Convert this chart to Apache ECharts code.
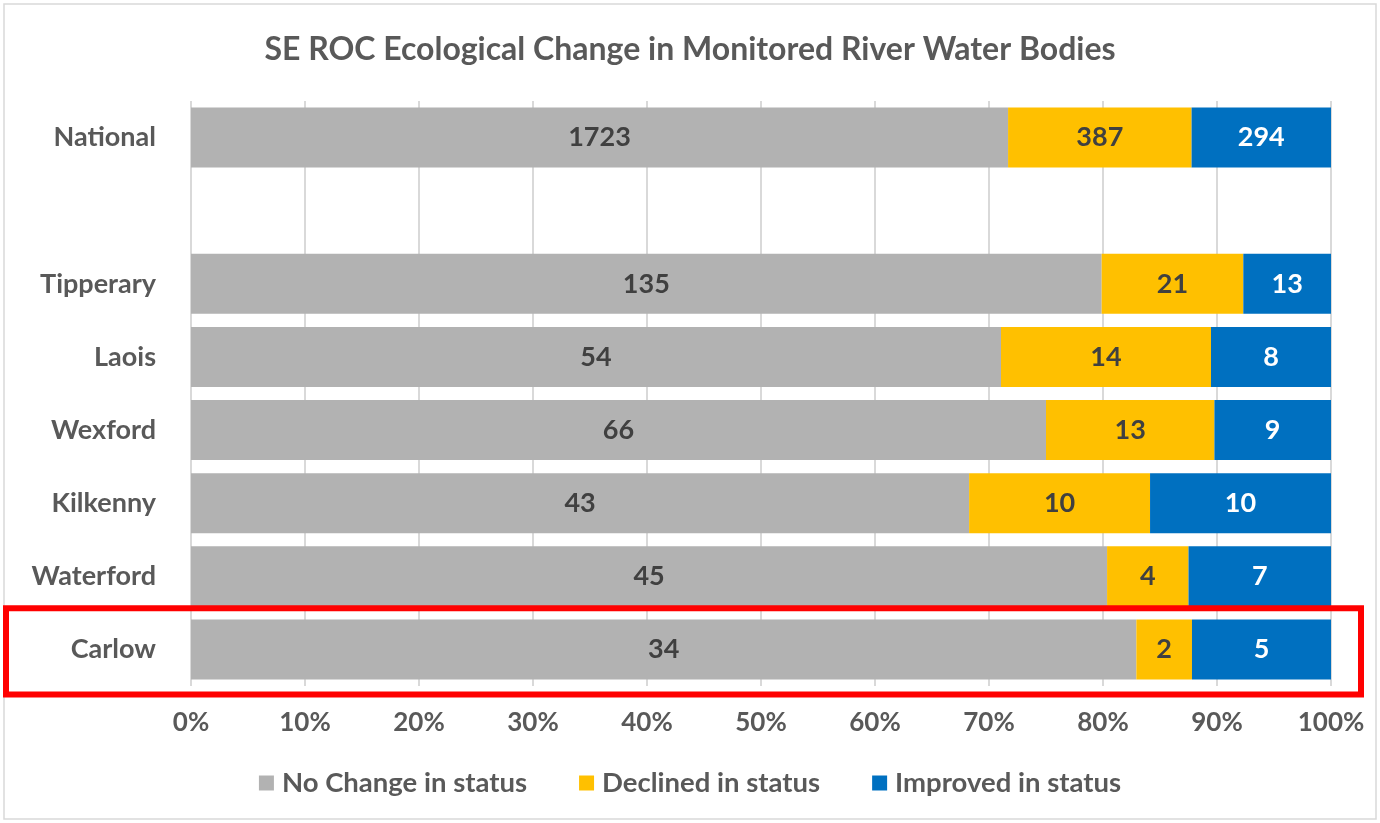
<!DOCTYPE html>
<html>
<head>
<meta charset="utf-8">
<script src="https://cdn.jsdelivr.net/npm/echarts@6/dist/echarts.min.js"></script>
<style>
html,body{margin:0;padding:0;background:#fff;}
#c{width:1380px;height:823px;}
</style>
</head>
<body>
<div id="c"></div>
<script>
// Categories bottom -> top (blank row separates National)
const categories = ['Carlow', 'Waterford', 'Kilkenny', 'Wexford', 'Laois', 'Tipperary', '', 'National'];
const noChange = [34, 45, 43, 66, 54, 135, null, 1723];
const declined = [2, 4, 10, 13, 14, 21, null, 387];
const improved = [5, 7, 10, 9, 8, 13, null, 294];
const seriesNames = ['No Change in status', 'Declined in status', 'Improved in status'];
const xTicks = [0, 10, 20, 30, 40, 50, 60, 70, 80, 90, 100];
const highlighted = 'Carlow';

const FONT = 'Lato, "Open Sans", sans-serif';
const raw = [noChange, declined, improved];
const totals = categories.map((_, i) => raw.reduce((s, a) => s + (a[i] || 0), 0));
const pct = raw.map(a => a.map((v, i) => v == null ? null : v / totals[i] * 100));
const colors = ['#b2b2b2', '#ffc000', '#0070c0'];
const labelColors = ['#404040', '#404040', '#ffffff'];

const chart = echarts.init(document.getElementById('c'), null, {renderer: 'canvas'});
const option = {
  backgroundColor: '#fff',
  animation: false,
  title: {
    text: 'SE ROC Ecological Change in Monitored River Water Bodies',
    left: 'center', top: 29,
    textStyle: {fontFamily: FONT, fontSize: 32, fontWeight: 'bold', color: '#595959'}
  },
  legend: {
    bottom: 21, left: 'center',
    itemWidth: 15, itemHeight: 15, itemGap: 52,
    icon: 'rect',
    textStyle: {fontFamily: FONT, fontSize: 27.5, fontWeight: 'bold', color: '#595959', padding: [0, 0, 0, 3]},
    data: seriesNames
  },
  grid: {left: 191, right: 49, top: 101, bottom: 137, containLabel: false},
  xAxis: {
    type: 'value', min: 0, max: 100, interval: 10,
    axisLabel: {formatter: v => xTicks.includes(v) ? v + '%' : '', fontFamily: FONT, fontSize: 26, fontWeight: 'bold', color: '#595959', margin: 24},
    splitLine: {show: true, lineStyle: {color: '#d9d9d9', width: 2}},
    axisLine: {show: false}, axisTick: {show: false}
  },
  yAxis: {
    type: 'category', data: categories,
    axisLabel: {fontFamily: FONT, fontSize: 27, fontWeight: 'bold', color: '#595959', margin: 35},
    axisLine: {show: false}, axisTick: {show: false}
  },
  series: seriesNames.map((name, k) => ({
    name, type: 'bar', stack: 'total', barCategoryGap: '18%',
    data: pct[k],
    itemStyle: {color: colors[k]},
    label: {
      show: true, position: 'inside',
      formatter: p => raw[k][p.dataIndex] == null ? '' : String(raw[k][p.dataIndex]),
      fontFamily: FONT, fontSize: 27, fontWeight: 'bold', color: labelColors[k]
    }
  }))
};
chart.setOption(option);

// annotation: red box around highlighted row, outer light border
const cy = chart.convertToPixel({yAxisIndex: 0}, highlighted);
const cy2 = chart.convertToPixel({yAxisIndex: 0}, categories[categories.indexOf(highlighted) + 1]);
const band = Math.abs(cy - cy2);
const xEnd = chart.convertToPixel({xAxisIndex: 0}, 100);
const boxH = band * 1.18;
chart.setOption({
  graphic: [
    {type: 'rect', shape: {x: 4, y: 4, width: 1372, height: 815}, style: {fill: 'none', stroke: '#d9d9d9', lineWidth: 1.5}, z: 0, silent: true},
    {type: 'rect', shape: {x: 6, y: cy + 2 - boxH / 2, width: xEnd + 24, height: boxH}, style: {fill: 'none', stroke: '#ff0000', lineWidth: 6}, z: 100, silent: true}
  ]
});
</script>
</body>
</html>
